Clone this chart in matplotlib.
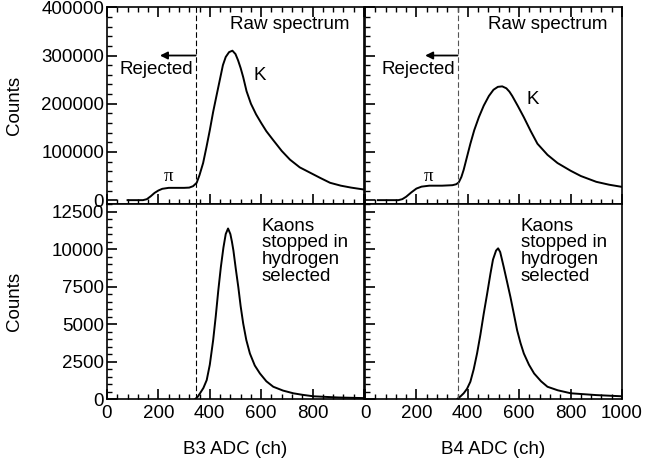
import matplotlib
matplotlib.use("Agg")
import matplotlib.pyplot as plt
from matplotlib.ticker import MultipleLocator

plt.rcParams['font.family'] = ['Liberation Sans', 'DejaVu Sans']
plt.rcParams['font.size'] = 13.5

# ---- data ----
# raw spectrum, B3 counter
b3_raw_x = [80, 140, 155, 170, 185, 200, 215, 240, 300, 320, 335, 349, 360,
            374, 387, 400, 413, 427, 440, 451, 462, 475, 488, 500, 510, 520,
            530, 543, 560, 580, 600, 620, 646, 680, 712, 750, 790, 830, 868,
            910, 950, 1000]
b3_raw_y = [0, 0, 2000, 8000, 15000, 20000, 23500, 25500, 25500, 26000,
            29000, 36000, 52000, 77000, 110000, 145000, 183000, 219000,
            252000, 280000, 297000, 307000, 310000, 303000, 290000, 274000,
            255000, 226000, 200000, 178000, 160000, 143000, 125000, 102000,
            84000, 68000, 57000, 46000, 36000, 30000, 26000, 22000]

# raw spectrum, B4 counter
b4_raw_x = [50, 130, 145, 160, 180, 200, 220, 250, 300, 340, 355, 365, 375,
            384, 396, 410, 425, 443, 462, 482, 500, 517, 534, 550, 562, 573,
            595, 618, 645, 671, 710, 749, 800, 840, 900, 950, 1000]
b4_raw_y = [0, 0, 2000, 7000, 16000, 24000, 28000, 30000, 30000, 31000,
            33000, 37000, 48000, 63000, 88000, 117000, 145000, 172000,
            196000, 216000, 229000, 235000, 236000, 232000, 225000, 216000,
            195000, 172000, 143000, 117000, 94000, 77000, 61000, 50000,
            38000, 32000, 27500]

# kaons stopped in hydrogen, B3
b3_sel_x = [342, 352, 362, 375, 388, 400, 413, 423, 433, 443, 453, 462, 471,
            480, 486, 492, 501, 511, 520, 530, 542, 556, 575, 595, 620, 647,
            685, 725, 760, 803, 900, 1000]
b3_sel_y = [0, 150, 400, 750, 1280, 2300, 3930, 5500, 7240, 8800, 10100,
            11000, 11370, 11000, 10500, 9890, 8700, 7460, 6200, 5040, 3950,
            3050, 2250, 1720, 1200, 835, 580, 400, 300, 200, 120, 80]

# kaons stopped in hydrogen, B4
b4_sel_x = [358, 370, 384, 397, 410, 423, 436, 449, 462, 475, 488, 498, 510,
            518, 526, 533, 540, 553, 566, 579, 592, 605, 618, 638, 658, 685,
            710, 750, 801, 900, 1000]
b4_sel_y = [0, 170, 400, 700, 1170, 2000, 3050, 4300, 5700, 7000, 8350,
            9300, 9900, 10050, 9800, 9300, 8790, 7800, 6800, 5700, 4590,
            3750, 3050, 2300, 1720, 1200, 835, 600, 400, 280, 200]

b3_cut = 345
b4_cut = 360

x_ticks = [0, 200, 400, 600, 800, 1000]
raw_ticks = [0, 100000, 200000, 300000, 400000]
sel_ticks = [0, 2500, 5000, 7500, 10000, 12500]

W, H = 659, 461
fig = plt.figure(figsize=(W / 100, H / 100), dpi=100)

left_x, right_x, pw = 107, 365, 257
top_y0, top_y1 = 204, 7.3
bot_y0, bot_y1 = 399.3, 204


def make_ax(x0, y_bottom, y_top):
    return fig.add_axes([x0 / W, (H - y_bottom) / H, pw / W, (y_bottom - y_top) / H])


ax_tl = make_ax(left_x, top_y0, top_y1)
ax_tr = make_ax(right_x, top_y0, top_y1)
ax_bl = make_ax(left_x, bot_y0, bot_y1)
ax_br = make_ax(right_x, bot_y0, bot_y1)

for ax, xs, ys in [(ax_tl, b3_raw_x, b3_raw_y), (ax_tr, b4_raw_x, b4_raw_y),
                   (ax_bl, b3_sel_x, b3_sel_y), (ax_br, b4_sel_x, b4_sel_y)]:
    ax.plot(xs, ys, color='black', lw=1.4, solid_joinstyle='round')
    ax.set_xlim(0, 1000)
    for s in ax.spines.values():
        s.set_linewidth(1.2)
    ax.xaxis.set_major_locator(MultipleLocator(200))
    ax.xaxis.set_minor_locator(MultipleLocator(40))
    ax.tick_params(which='both', direction='in', left=True, bottom=True,
                   right=False, color='black', labelsize=13.5)
    ax.tick_params(which='major', length=7, width=1.2)
    ax.tick_params(which='minor', length=3.5, width=1.0)
    ax.tick_params(axis='x', pad=4)
    ax.tick_params(axis='y', pad=2)

for ax in (ax_tl, ax_tr):
    ax.set_ylim(-8000, 400000)
    ax.set_yticks(raw_ticks)
    ax.yaxis.set_minor_locator(MultipleLocator(20000))
    ax.tick_params(axis='x', which='both', top=True, labelbottom=False)

for ax in (ax_bl, ax_br):
    ax.set_ylim(0, 13000)
    ax.set_yticks(sel_ticks)
    ax.yaxis.set_minor_locator(MultipleLocator(500))
    ax.tick_params(axis='x', which='both', top=False)

for ax in (ax_tr, ax_br):
    ax.tick_params(axis='y', labelleft=False)

ax_bl.set_xticks(x_ticks)
ax_bl.set_xticklabels(['0', '200', '400', '600', '800', ''])
ax_br.set_xticks(x_ticks)

for ax in (ax_tl, ax_bl):
    ax.set_ylabel('Counts')
    ax.yaxis.set_label_coords(-0.327, 0.5)

ax_bl.set_xlabel('B3 ADC (ch)', labelpad=14)
ax_br.set_xlabel('B4 ADC (ch)', labelpad=14)

# cut lines
for ax, cut, col in [(ax_tl, b3_cut, 'black'), (ax_bl, b3_cut, 'black'),
                     (ax_tr, b4_cut, '#555555'), (ax_br, b4_cut, '#555555')]:
    ax.axvline(cut, color=col, lw=0.8, ls=(0, (5, 2.5)))

# annotations on raw spectra
for ax, cut, arrow_end, k_xy, pi_xy in [
        (ax_tl, b3_cut, 206, (595, 258000), (238, 50000)),
        (ax_tr, b4_cut, 234, (651, 209000), (247, 50000))]:
    ax.annotate('', xy=(arrow_end, 300000), xytext=(cut, 300000),
                arrowprops=dict(arrowstyle='-|>', color='black', lw=1.3,
                                mutation_scale=11, shrinkA=0, shrinkB=0))
    ax.text(cut - 10, 270000, 'Rejected', ha='right', va='center')
    ax.text(480, 365000, 'Raw spectrum', ha='left', va='center')
    ax.text(k_xy[0], k_xy[1], 'K', ha='center', va='center')
    ax.text(pi_xy[0], pi_xy[1], 'π', ha='center', va='center',
            family=['Liberation Serif', 'DejaVu Serif'])

for ax, x0 in [(ax_bl, 602), (ax_br, 606)]:
    ax.text(x0, 12100, 'Kaons\nstopped in\nhydrogen\nselected',
            ha='left', va='top', linespacing=0.98)

fig.savefig('out.png', dpi=100)
